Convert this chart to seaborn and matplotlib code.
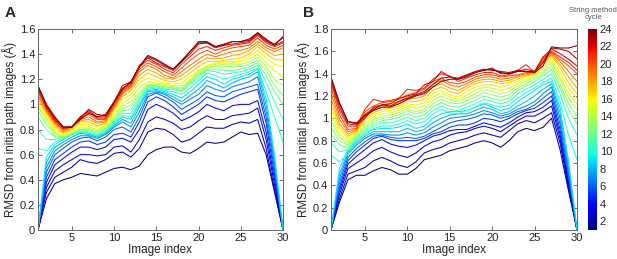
import numpy as np
import pandas as pd
import matplotlib
matplotlib.use('Agg')
import matplotlib.pyplot as plt
import seaborn as sns

image_index = list(range(1, 31))
cycles = list(range(1, 25))

# Panel A: RMSD per string method cycle (rows = cycles 1..24)
rmsd_a = [
    [0, .25, .37, .40, .42, .45, .44, .43, .46, .49, .50, .48, .51, .60, .64, .66, .66, .62, .61, .65, .70, .69, .70, .74, .78, .76, .77, .60, .30, 0],
    [0, .30, .42, .46, .50, .56, .54, .53, .56, .61, .62, .58, .65, .78, .81, .80, .76, .70, .72, .77, .82, .81, .81, .84, .86, .85, .88, .65, .32, 0],
    [0, .34, .47, .52, .56, .60, .60, .59, .60, .66, .67, .62, .72, .86, .90, .88, .85, .80, .82, .87, .91, .88, .88, .91, .92, .93, .97, .72, .36, 0],
    [0, .38, .52, .57, .62, .66, .66, .64, .66, .72, .73, .70, .80, .96, 1.00, .97, .93, .87, .90, .94, 1.00, .97, .95, .99, 1.00, 1.00, 1.03, .78, .40, 0],
    [0, .42, .56, .61, .66, .70, .71, .68, .70, .76, .77, .74, .86, 1.02, 1.06, 1.03, .98, .92, .96, 1.00, 1.06, 1.03, 1.02, 1.05, 1.08, 1.10, 1.12, .85, .44, 0],
    [0, .46, .60, .65, .70, .73, .74, .71, .74, .80, .82, .78, .90, 1.06, 1.09, 1.06, 1.02, .96, 1.00, 1.04, 1.10, 1.07, 1.06, 1.10, 1.12, 1.14, 1.16, .90, .48, 0],
    [0, .50, .63, .68, .72, .75, .75, .73, .76, .82, .86, .82, .94, 1.08, 1.10, 1.08, 1.04, 1.00, 1.04, 1.08, 1.15, 1.12, 1.10, 1.14, 1.16, 1.18, 1.22, .95, .52, 0],
    [0, .54, .66, .70, .74, .77, .76, .74, .77, .83, .88, .85, .98, 1.10, 1.11, 1.09, 1.06, 1.02, 1.07, 1.12, 1.19, 1.16, 1.13, 1.17, 1.20, 1.22, 1.26, 1.00, .56, 0],
    [0, .58, .68, .72, .76, .78, .77, .75, .78, .84, .90, .88, 1.00, 1.11, 1.12, 1.10, 1.08, 1.05, 1.10, 1.16, 1.22, 1.20, 1.16, 1.20, 1.22, 1.24, 1.28, 1.05, .60, 0],
    [.65, .63, .70, .73, .76, .78, .77, .75, .78, .85, .91, .90, 1.02, 1.12, 1.13, 1.11, 1.10, 1.08, 1.13, 1.19, 1.25, 1.23, 1.20, 1.22, 1.24, 1.26, 1.29, 1.10, .90, .70],
    [.80, .72, .72, .74, .77, .79, .78, .76, .79, .86, .93, .93, 1.04, 1.13, 1.14, 1.12, 1.12, 1.10, 1.16, 1.21, 1.27, 1.26, 1.24, 1.25, 1.26, 1.28, 1.31, 1.18, 1.02, .88],
    [.90, .80, .74, .74, .77, .80, .79, .77, .80, .87, .95, .96, 1.06, 1.14, 1.15, 1.13, 1.13, 1.11, 1.17, 1.23, 1.28, 1.28, 1.27, 1.27, 1.28, 1.30, 1.33, 1.23, 1.10, 1.00],
    [.95, .84, .75, .74, .77, .80, .80, .78, .81, .88, .97, .99, 1.08, 1.15, 1.15, 1.14, 1.13, 1.12, 1.18, 1.24, 1.29, 1.30, 1.30, 1.30, 1.30, 1.32, 1.35, 1.27, 1.15, 1.07],
    [.98, .87, .77, .74, .77, .81, .81, .79, .82, .90, .99, 1.02, 1.10, 1.16, 1.16, 1.15, 1.14, 1.13, 1.19, 1.25, 1.29, 1.31, 1.32, 1.32, 1.32, 1.34, 1.37, 1.30, 1.20, 1.15],
    [1.00, .89, .78, .75, .78, .82, .82, .80, .83, .92, 1.01, 1.05, 1.13, 1.18, 1.17, 1.16, 1.15, 1.15, 1.20, 1.26, 1.30, 1.32, 1.33, 1.33, 1.34, 1.36, 1.40, 1.33, 1.27, 1.22],
    [1.02, .91, .80, .76, .79, .84, .84, .82, .84, .94, 1.04, 1.08, 1.17, 1.21, 1.19, 1.17, 1.16, 1.17, 1.22, 1.27, 1.31, 1.33, 1.34, 1.34, 1.35, 1.38, 1.43, 1.37, 1.32, 1.30],
    [1.04, .93, .82, .77, .80, .86, .86, .83, .85, .96, 1.06, 1.11, 1.20, 1.25, 1.22, 1.19, 1.18, 1.20, 1.25, 1.30, 1.34, 1.34, 1.35, 1.36, 1.37, 1.40, 1.46, 1.40, 1.36, 1.35],
    [1.06, .94, .84, .78, .81, .87, .88, .85, .86, .97, 1.08, 1.13, 1.23, 1.28, 1.25, 1.21, 1.20, 1.23, 1.28, 1.33, 1.37, 1.36, 1.37, 1.39, 1.40, 1.43, 1.48, 1.43, 1.39, 1.40],
    [1.08, .95, .85, .79, .82, .88, .90, .86, .87, .98, 1.09, 1.14, 1.26, 1.31, 1.28, 1.23, 1.21, 1.26, 1.31, 1.36, 1.40, 1.38, 1.40, 1.42, 1.43, 1.45, 1.50, 1.45, 1.42, 1.45],
    [1.10, .96, .86, .80, .82, .89, .92, .88, .88, .99, 1.10, 1.15, 1.28, 1.33, 1.30, 1.26, 1.23, 1.29, 1.35, 1.40, 1.43, 1.40, 1.43, 1.45, 1.46, 1.47, 1.53, 1.47, 1.44, 1.47],
    [1.12, .97, .87, .81, .82, .90, .94, .89, .89, 1.00, 1.11, 1.16, 1.30, 1.35, 1.32, 1.28, 1.25, 1.32, 1.38, 1.44, 1.46, 1.43, 1.45, 1.47, 1.48, 1.49, 1.55, 1.49, 1.46, 1.49],
    [1.13, .98, .88, .81, .82, .90, .95, .90, .90, 1.01, 1.13, 1.17, 1.31, 1.37, 1.33, 1.30, 1.27, 1.34, 1.40, 1.48, 1.49, 1.45, 1.47, 1.48, 1.49, 1.50, 1.56, 1.50, 1.47, 1.50],
    [1.14, .99, .89, .82, .82, .89, .96, .92, .91, 1.02, 1.15, 1.18, 1.30, 1.38, 1.35, 1.31, 1.28, 1.35, 1.42, 1.50, 1.50, 1.46, 1.47, 1.50, 1.50, 1.51, 1.57, 1.51, 1.48, 1.53],
    [1.15, 1.00, .90, .82, .82, .88, .93, .90, .92, 1.02, 1.12, 1.18, 1.30, 1.39, 1.36, 1.32, 1.28, 1.34, 1.42, 1.49, 1.49, 1.46, 1.48, 1.50, 1.50, 1.52, 1.57, 1.52, 1.47, 1.54],
]

# Panel B
rmsd_b = [
    [0, .25, .45, .49, .49, .53, .56, .54, .50, .50, .55, .63, .65, .67, .71, .73, .75, .78, .80, .78, .74, .80, .88, .91, .89, .92, 1.00, .72, .35, 0],
    [0, .28, .50, .53, .56, .62, .65, .62, .58, .56, .61, .69, .72, .74, .78, .80, .82, .85, .87, .85, .83, .89, .95, .98, .96, 1.00, 1.05, .78, .38, 0],
    [0, .32, .55, .60, .65, .71, .74, .70, .67, .65, .69, .75, .79, .81, .85, .87, .88, .91, .93, .91, .88, .93, .98, 1.02, 1.02, 1.06, 1.11, .82, .40, 0],
    [0, .35, .59, .66, .72, .78, .81, .77, .75, .74, .76, .80, .84, .86, .89, .90, .90, .93, .96, .94, .92, .96, 1.01, 1.05, 1.06, 1.10, 1.16, .86, .43, 0],
    [0, .38, .62, .70, .76, .82, .84, .81, .80, .80, .80, .82, .86, .88, .92, .94, .94, .96, 1.00, .99, .97, 1.00, 1.04, 1.07, 1.09, 1.14, 1.20, .90, .46, 0],
    [0, .42, .65, .73, .79, .84, .85, .83, .82, .83, .82, .84, .88, .92, .96, .98, .99, 1.01, 1.04, 1.03, 1.00, 1.02, 1.06, 1.08, 1.12, 1.18, 1.24, .95, .50, 0],
    [0, .46, .68, .76, .82, .86, .86, .85, .85, .87, .85, .87, .92, .96, 1.00, 1.01, 1.02, 1.04, 1.07, 1.05, 1.02, 1.04, 1.08, 1.11, 1.15, 1.22, 1.28, 1.00, .54, 0],
    [0, .50, .70, .78, .84, .88, .88, .88, .88, .91, .88, .90, .96, 1.00, 1.03, 1.04, 1.04, 1.07, 1.10, 1.08, 1.04, 1.06, 1.11, 1.15, 1.20, 1.26, 1.31, 1.05, .58, 0],
    [0, .55, .72, .80, .86, .90, .91, .91, .92, .95, .91, .93, 1.00, 1.04, 1.06, 1.06, 1.07, 1.10, 1.13, 1.10, 1.07, 1.09, 1.15, 1.20, 1.25, 1.30, 1.33, 1.10, .62, 0],
    [.67, .61, .68, .80, .86, .91, .93, .93, .95, .98, .95, .97, 1.04, 1.08, 1.05, 1.04, 1.07, 1.10, 1.14, 1.12, 1.10, 1.12, 1.18, 1.23, 1.27, 1.32, 1.36, 1.15, .85, .63],
    [.78, .70, .72, .82, .88, .93, .96, .96, .98, 1.01, .98, 1.00, 1.07, 1.11, 1.08, 1.07, 1.10, 1.13, 1.17, 1.15, 1.13, 1.15, 1.22, 1.26, 1.30, 1.35, 1.40, 1.22, 1.00, .85],
    [.86, .76, .74, .83, .90, .95, .98, .99, 1.01, 1.04, 1.01, 1.03, 1.10, 1.14, 1.11, 1.10, 1.13, 1.16, 1.20, 1.18, 1.16, 1.18, 1.25, 1.29, 1.33, 1.38, 1.44, 1.27, 1.08, .95],
    [.92, .80, .76, .84, .92, .97, 1.00, 1.01, 1.03, 1.07, 1.04, 1.06, 1.13, 1.17, 1.14, 1.13, 1.16, 1.19, 1.23, 1.21, 1.19, 1.21, 1.27, 1.31, 1.35, 1.40, 1.47, 1.31, 1.13, 1.02],
    [.98, .83, .78, .85, .94, .99, 1.02, 1.03, 1.05, 1.09, 1.06, 1.08, 1.16, 1.20, 1.17, 1.15, 1.18, 1.22, 1.26, 1.24, 1.22, 1.24, 1.29, 1.33, 1.37, 1.42, 1.50, 1.35, 1.18, 1.08],
    [1.03, .86, .80, .86, .96, 1.01, 1.04, 1.05, 1.07, 1.11, 1.09, 1.11, 1.19, 1.23, 1.19, 1.17, 1.21, 1.25, 1.28, 1.27, 1.25, 1.27, 1.31, 1.35, 1.38, 1.44, 1.52, 1.38, 1.22, 1.13],
    [1.08, .89, .82, .87, .98, 1.03, 1.06, 1.07, 1.09, 1.13, 1.12, 1.14, 1.22, 1.25, 1.21, 1.19, 1.24, 1.28, 1.30, 1.30, 1.28, 1.30, 1.33, 1.37, 1.39, 1.46, 1.54, 1.41, 1.27, 1.18],
    [1.13, .92, .84, .88, 1.00, 1.05, 1.08, 1.09, 1.11, 1.15, 1.15, 1.17, 1.25, 1.28, 1.24, 1.22, 1.27, 1.31, 1.33, 1.33, 1.31, 1.32, 1.35, 1.38, 1.40, 1.48, 1.56, 1.45, 1.32, 1.22],
    [1.18, .95, .86, .89, 1.02, 1.07, 1.10, 1.11, 1.13, 1.17, 1.18, 1.20, 1.28, 1.31, 1.27, 1.25, 1.29, 1.33, 1.35, 1.35, 1.33, 1.34, 1.37, 1.39, 1.40, 1.50, 1.57, 1.48, 1.37, 1.27],
    [1.23, .99, .88, .90, 1.04, 1.09, 1.12, 1.13, 1.15, 1.19, 1.21, 1.23, 1.31, 1.34, 1.30, 1.28, 1.31, 1.35, 1.37, 1.37, 1.35, 1.36, 1.38, 1.40, 1.41, 1.52, 1.58, 1.51, 1.42, 1.33],
    [1.28, 1.03, .90, .91, 1.06, 1.11, 1.14, 1.15, 1.17, 1.21, 1.23, 1.26, 1.33, 1.36, 1.32, 1.31, 1.33, 1.37, 1.39, 1.39, 1.37, 1.38, 1.39, 1.41, 1.41, 1.53, 1.59, 1.53, 1.47, 1.40],
    [1.32, 1.07, .93, .93, 1.08, 1.17, 1.15, 1.16, 1.18, 1.26, 1.25, 1.27, 1.35, 1.40, 1.38, 1.33, 1.36, 1.39, 1.41, 1.41, 1.38, 1.39, 1.43, 1.48, 1.41, 1.54, 1.60, 1.55, 1.50, 1.43],
    [1.34, 1.10, .95, .94, 1.00, 1.10, 1.12, 1.13, 1.18, 1.20, 1.22, 1.30, 1.33, 1.42, 1.37, 1.35, 1.37, 1.41, 1.43, 1.45, 1.40, 1.40, 1.42, 1.44, 1.42, 1.55, 1.62, 1.58, 1.53, 1.47],
    [1.36, 1.13, .97, .95, 1.03, 1.08, 1.12, 1.11, 1.15, 1.18, 1.21, 1.24, 1.30, 1.36, 1.37, 1.36, 1.39, 1.42, 1.44, 1.43, 1.42, 1.41, 1.43, 1.42, 1.42, 1.50, 1.63, 1.62, 1.60, 1.53],
    [1.37, 1.14, .97, .96, 1.02, 1.07, 1.10, 1.10, 1.13, 1.17, 1.20, 1.22, 1.28, 1.33, 1.35, 1.35, 1.38, 1.41, 1.43, 1.44, 1.41, 1.40, 1.42, 1.42, 1.41, 1.47, 1.64, 1.63, 1.63, 1.65],
]


def to_long(rows):
    recs = []
    for c, row in zip(cycles, rows):
        for x, y in zip(image_index, row):
            recs.append((c, x, y))
    return pd.DataFrame(recs, columns=['cycle', 'image', 'rmsd'])


sns.set_style('white')
plt.rcParams['font.family'] = ['Liberation Sans', 'DejaVu Sans']

jet = plt.get_cmap('jet')

fig = plt.figure(figsize=(6.17, 2.59), dpi=100)
ax_a = fig.add_axes([38 / 617, 29 / 259, 245 / 617, 201 / 259])
ax_b = fig.add_axes([331 / 617, 29 / 259, 246 / 617, 201 / 259])
cax = fig.add_axes([588 / 617, 29 / 259, 9 / 617, 201 / 259])

panels = [(ax_a, rmsd_a, 1.6, [0, 0.2, 0.4, 0.6, 0.8, 1, 1.2, 1.4, 1.6]),
          (ax_b, rmsd_b, 1.8, [0, 0.2, 0.4, 0.6, 0.8, 1, 1.2, 1.4, 1.6, 1.8])]

for ax, rows, ymax, yticks in panels:
    df = to_long(rows)
    sns.lineplot(data=df, x='image', y='rmsd', hue='cycle', palette=jet,
                 hue_norm=(1, 24), estimator=None, legend=False, lw=0.75, ax=ax)
    ax.set_xlim(1, 30)
    ax.set_ylim(0, ymax)
    ax.set_xticks([5, 10, 15, 20, 25, 30])
    ax.set_yticks(yticks)
    ax.set_yticklabels([f'{t:g}' for t in yticks])
    ax.tick_params(direction='in', length=3, width=0.6, labelsize=8,
                   bottom=True, left=True, top=True, right=True,
                   colors='#555555', labelcolor='#222222', pad=2)
    for s in ax.spines.values():
        s.set_color('#666666')
        s.set_linewidth(0.7)
    ax.set_xlabel('Image index', fontsize=8.5, labelpad=1, color='#222222')
    ax.set_ylabel('RMSD from initial path images (Å)', fontsize=8.3, labelpad=2, color='#222222')

fig.text(5 / 617, 1 - 13 / 259, 'A', fontsize=11, fontweight='bold', va='center')
fig.text(303 / 617, 1 - 13 / 259, 'B', fontsize=11, fontweight='bold', va='center')

sm = plt.cm.ScalarMappable(cmap=jet, norm=plt.Normalize(1, 24))
cb = fig.colorbar(sm, cax=cax, ticks=list(range(2, 25, 2)))
cb.outline.set_linewidth(0)
cax.tick_params(direction='in', length=0, labelsize=8, pad=2, labelcolor='#222222')
fig.text(593 / 617, 1 - 14 / 259, 'String method\ncycle', fontsize=5.5,
         ha='center', va='center', color='#555555', linespacing=1.0)

fig.savefig('out.png', dpi=100)
